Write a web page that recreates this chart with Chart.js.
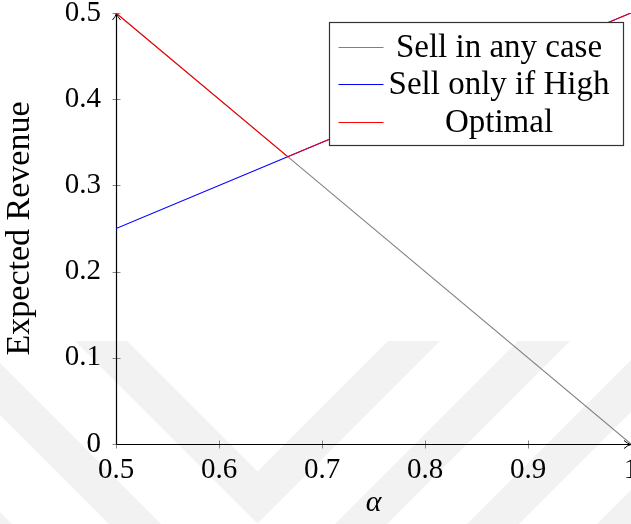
<!DOCTYPE html>
<html>
<head>
<meta charset="utf-8">
<script src="https://cdn.jsdelivr.net/npm/chart.js@4/dist/chart.umd.min.js"></script>
<style>
  html, body { margin: 0; padding: 0; background: #ffffff; }
  #wrap { width: 631px; height: 524px; }
</style>
</head>
<body>
<div id="wrap"><canvas id="c" width="631" height="524"></canvas></div>
<script>
// alpha grid and expected revenue of each selling policy
const alphaValues    = [0.5, 0.6667, 1];
const sellAnyCase    = [0.5, 0.3333, 0];
const sellOnlyIfHigh = [0.25, 0.3333, 0.5];
const optimal        = [0.5, 0.3333, 0.5];

const seriesNames  = ['Sell in any case', 'Sell only if High', 'Optimal'];
const seriesColors = ['#808080', '#0000ff', '#ff0000'];

const xTicks = [0.5, 0.6, 0.7, 0.8, 0.9, 1];
const yTicks = [0, 0.1, 0.2, 0.3, 0.4, 0.5];

const SERIF = '"Liberation Serif"';

const toPoints = (ys) => alphaValues.map((a, i) => ({ x: a, y: ys[i] }));
const seriesValues = [sellAnyCase, sellOnlyIfHigh, optimal];

const datasets = seriesValues.map((vals, i) => ({
  label: seriesNames[i],
  data: toPoints(vals),
  borderColor: seriesColors[i],
  backgroundColor: seriesColors[i],
  borderWidth: 1.1,
  pointRadius: 0,
  tension: 0,
  fill: false,
  order: seriesValues.length - i   // later series are painted on top
}));

// faint chevron pattern in the page background
function drawChevrons(ctx) {
  const yc = 341, w = 52;
  const innerLeft  = [127, -22, -171];
  const innerRight = [388, 518, 650];
  ctx.save();
  ctx.fillStyle = '#f2f2f2';
  for (let k = 0; k < innerLeft.length; k++) {
    const a = innerLeft[k], b = innerRight[k];
    const innerApex = [(a + b) / 2, yc + (b - a) / 2];
    const outerApex = [(a - w + b + w) / 2, yc + (b + w - (a - w)) / 2];
    ctx.beginPath();
    ctx.moveTo(a - w, yc);
    ctx.lineTo(a, yc);
    ctx.lineTo(innerApex[0], innerApex[1]);
    ctx.lineTo(b, yc);
    ctx.lineTo(b + w, yc);
    ctx.lineTo(outerApex[0], outerApex[1]);
    ctx.closePath();
    ctx.fill();
  }
  // outermost right arm
  const b3 = 780;
  ctx.beginPath();
  ctx.moveTo(b3, yc);
  ctx.lineTo(b3 + w, yc);
  ctx.lineTo(b3 + w - 300, yc + 300);
  ctx.lineTo(b3 - 300, yc + 300);
  ctx.closePath();
  ctx.fill();
  ctx.restore();
}

const decorations = {
  id: 'decorations',
  beforeDraw(chart) {
    drawChevrons(chart.ctx);
  },
  beforeDatasetsDraw(chart) {
    const { ctx, chartArea, scales } = chart;
    const L = Math.round(chartArea.left) + 0.5;
    const B = Math.round(chartArea.bottom) + 0.5;
    const T = chartArea.top;
    const R = chartArea.right;
    ctx.save();
    // tick marks straddling the axes
    ctx.strokeStyle = '#8a8a8a';
    ctx.lineWidth = 1;
    xTicks.forEach(v => {
      const px = Math.round(scales.x.getPixelForValue(v)) + 0.5;
      ctx.beginPath(); ctx.moveTo(px, B - 4); ctx.lineTo(px, B + 4); ctx.stroke();
    });
    yTicks.forEach(v => {
      const py = Math.round(scales.y.getPixelForValue(v)) + 0.5;
      ctx.beginPath(); ctx.moveTo(L - 4, py); ctx.lineTo(L + 4, py); ctx.stroke();
    });
    // axis lines with arrow heads
    ctx.strokeStyle = '#000000';
    ctx.lineWidth = 1.2;
    ctx.beginPath(); ctx.moveTo(L, B); ctx.lineTo(L, T + 1); ctx.stroke();
    ctx.beginPath(); ctx.moveTo(L, B); ctx.lineTo(R - 1, B); ctx.stroke();
    ctx.lineWidth = 1;
    ctx.beginPath();
    ctx.moveTo(L - 4, T + 7);
    ctx.quadraticCurveTo(L - 0.5, T + 3, L, T);
    ctx.quadraticCurveTo(L + 0.5, T + 3, L + 4, T + 7);
    ctx.stroke();
    ctx.beginPath();
    ctx.moveTo(R - 7, B - 4);
    ctx.quadraticCurveTo(R - 3, B - 0.5, R, B);
    ctx.quadraticCurveTo(R - 3, B + 0.5, R - 7, B + 4);
    ctx.stroke();
    ctx.restore();
  },
  afterDraw(chart) {
    const ctx = chart.ctx;
    const bx = 329.5, by = 22.5, bw = 294, bh = 123;
    ctx.save();
    ctx.fillStyle = '#ffffff';
    ctx.fillRect(bx, by, bw, bh);
    ctx.strokeStyle = '#333333';
    ctx.lineWidth = 1.2;
    ctx.strokeRect(bx, by, bw, bh);
    ctx.font = '33px ' + SERIF;
    ctx.textAlign = 'center';
    ctx.textBaseline = 'alphabetic';
    chart.data.datasets.forEach((ds, i) => {
      const rowY = 47 + i * 37.4;
      ctx.strokeStyle = ds.borderColor;
      ctx.lineWidth = 1.2;
      ctx.beginPath();
      ctx.moveTo(bx + 9, Math.round(rowY) + 0.5);
      ctx.lineTo(bx + 54, Math.round(rowY) + 0.5);
      ctx.stroke();
      ctx.fillStyle = '#000000';
      ctx.fillText(ds.label, 499, rowY + 10);
    });
    ctx.restore();
  }
};

const tickLabel = (v) => String(Math.round(v * 10) / 10);

new Chart(document.getElementById('c'), {
  type: 'line',
  data: { datasets },
  plugins: [decorations],
  options: {
    responsive: false,
    animation: false,
    events: [],
    font: { family: SERIF },
    layout: { padding: { top: 13, right: 0, bottom: 0, left: 0 } },
    plugins: { legend: { display: false }, tooltip: { enabled: false } },
    scales: {
      x: {
        type: 'linear',
        min: 0.5,
        max: 1,
        afterBuildTicks: (s) => { s.ticks = xTicks.map(v => ({ value: v })); },
        afterFit: (s) => { s.height = 80; s.paddingLeft = 0; s.paddingRight = 0; },
        grid: { display: false, drawTicks: false },
        border: { display: false },
        ticks: {
          autoSkip: false, maxRotation: 0, minRotation: 0,
          padding: 9, color: '#000000',
          font: { family: SERIF, size: 29 },
          callback: tickLabel
        },
        title: {
          display: true, text: 'α', color: '#000000',
          font: { family: SERIF, size: 30, style: 'italic' },
          padding: { top: 0, bottom: 3 }
        }
      },
      y: {
        type: 'linear',
        min: 0,
        max: 0.5,
        afterBuildTicks: (s) => { s.ticks = yTicks.map(v => ({ value: v })); },
        afterFit: (s) => { s.width = 116; s.paddingTop = 0; s.paddingBottom = 0; },
        grid: { display: false, drawTicks: false },
        border: { display: false },
        ticks: {
          autoSkip: false, padding: 15, color: '#000000',
          font: { family: SERIF, size: 29 },
          callback: tickLabel
        },
        title: {
          display: true, text: 'Expected Revenue', color: '#000000',
          font: { family: SERIF, size: 34 },
          padding: { top: 0, bottom: 0 }
        }
      }
    }
  }
});
</script>
</body>
</html>
